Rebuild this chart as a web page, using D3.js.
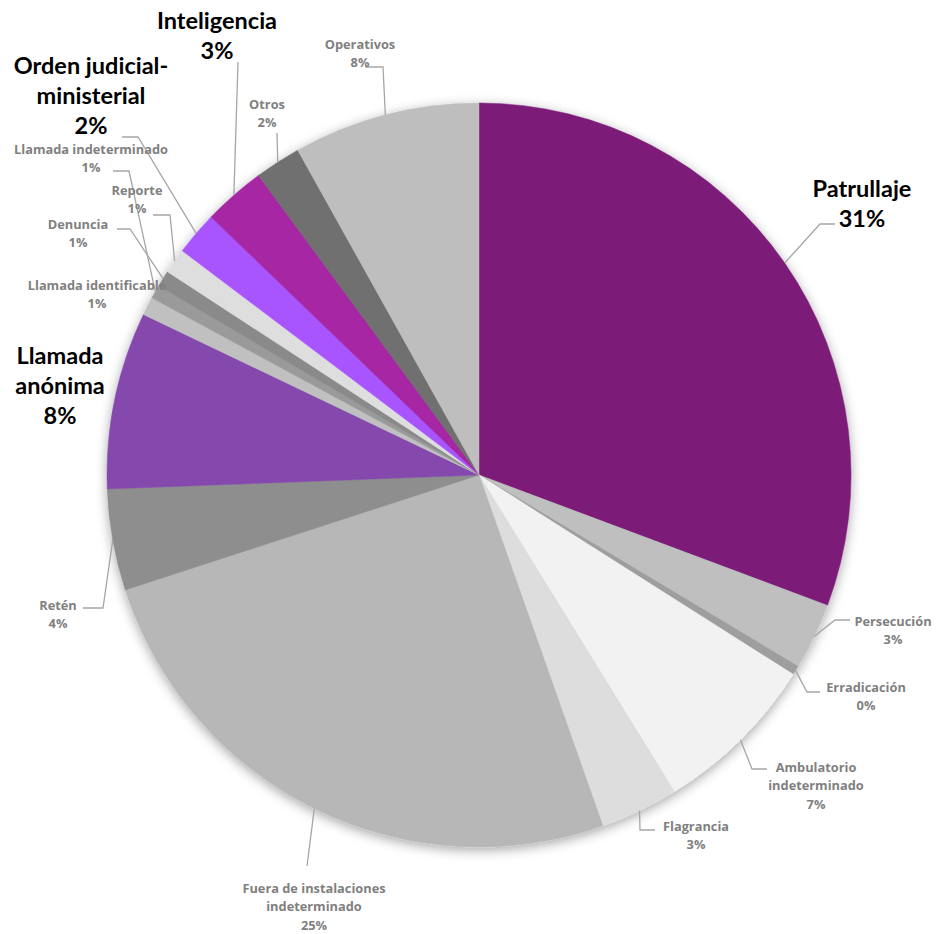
<!DOCTYPE html>
<html>
<head>
<meta charset="utf-8">
<script src="https://cdn.jsdelivr.net/npm/d3@7"></script>
<style>
  html, body { margin: 0; padding: 0; background: #fff; }
  svg { display: block; }
  .lbl { font-weight: 700; text-anchor: middle; }
  .small { font-family: "Open Sans", Lato, sans-serif; font-size: 12.8px; fill: #808080; }
  .big { font-family: Lato, "Open Sans", sans-serif; font-size: 23.5px; fill: #000; }
  .leader { fill: none; stroke: #a6a6a6; stroke-width: 1.3; }
</style>
</head>
<body>
<svg id="chart" width="938" height="934"></svg>
<script>
// --- data (percent of total) ---
const categories = [
  "Patrullaje", "Persecución", "Erradicación", "Ambulatorio\nindeterminado", "Flagrancia",
  "Fuera de instalaciones\nindeterminado", "Retén", "Llamada\nanónima", "Llamada identificable",
  "Llamada indeterminado", "Denuncia", "Reporte", "Orden judicial-\nministerial",
  "Inteligencia", "Otros", "Operativos"
];
const values = [30.7, 2.9, 0.4, 7.2, 3.4, 25.4, 4.4, 7.7, 0.8, 0.6, 0.7, 1.1, 1.9, 2.7, 2.0, 8.1];
const highlighted = ["Patrullaje", "Llamada\nanónima", "Orden judicial-\nministerial", "Inteligencia"];

// --- styles ---
const colors = [
  "#7b1a78", "#bfbfbf", "#9e9e9e", "#f2f2f2", "#dddddd",
  "#b7b7b7", "#8e8e8e", "#8549ae", "#c0c0c0",
  "#9a9a9a", "#8a8a8a", "#dedede", "#a855ff",
  "#a626a4", "#6f6f6f", "#bebebe"
];

// label layout: first line centre, line start and elbow of the leader (null = no leader)
const labelLayout = [
  { x: 862, y: 189, s: [835, 224], e: [820, 224] },
  { x: 893, y: 621, s: [850, 620], e: [835, 620] },
  { x: 866, y: 687, s: [820, 692], e: [807, 692] },
  { x: 816, y: 767, s: [767, 769], e: [752, 769] },
  { x: 696, y: 826, s: [655, 830], e: [640, 830] },
  { x: 314, y: 888, s: [307, 866], e: [307, 866] },
  { x: 58,  y: 605, s: [83, 608],  e: [103, 608] },
  { x: 60,  y: 356, s: null },
  { x: 97,  y: 285, s: null },
  { x: 91,  y: 149, s: [113, 171], e: [129, 171] },
  { x: 78,  y: 224, s: [117, 229], e: [130, 229] },
  { x: 137, y: 190, s: [153, 215], e: [170, 215] },
  { x: 91,  y: 66,  s: [122, 137], e: [138, 137] },
  { x: 217, y: 21,  s: [238, 62],  e: [238, 62] },
  { x: 267, y: 104, s: [277, 133], e: [277, 133] },
  { x: 360, y: 44,  s: [365, 67],  e: [383, 67] }
];

const cx = 479, cy = 475, radius = 372;
const svg = d3.select("#chart");

const defs = svg.append("defs");
const f = defs.append("filter").attr("id", "shadow")
  .attr("x", "-10%").attr("y", "-10%").attr("width", "120%").attr("height", "120%");
f.append("feDropShadow").attr("dx", 0).attr("dy", 3).attr("stdDeviation", 6)
  .attr("flood-color", "#000").attr("flood-opacity", 0.35);

const total = d3.sum(values);
const pie = d3.pie().sort(null).value(d => d)(values);
const arc = d3.arc().innerRadius(0).outerRadius(radius);
const edge = d3.arc().innerRadius(radius).outerRadius(radius);

const g = svg.append("g").attr("transform", `translate(${cx},${cy})`);
g.append("g").attr("filter", "url(#shadow)")
  .selectAll("path")
  .data(pie)
  .enter().append("path")
  .attr("d", arc)
  .attr("fill", (d, i) => colors[i])
  .attr("stroke", (d, i) => colors[i])
  .attr("stroke-width", 0.5);

// leader lines
pie.forEach((d, i) => {
  const L = labelLayout[i];
  if (!L.s) return;
  const [px, py] = edge.centroid(d);
  svg.append("polyline")
    .attr("class", "leader")
    .attr("points", [L.s, L.e, [cx + px, cy + py]].map(p => p.join(",")).join(" "));
});

// labels
pie.forEach((d, i) => {
  const L = labelLayout[i];
  const big = highlighted.includes(categories[i]);
  const lines = categories[i].split("\n").concat([Math.round(values[i] / total * 100) + "%"]);
  const lh = big ? 30 : 18.5;
  const fs = big ? 23.5 : 12.8;
  const t = svg.append("text").attr("class", "lbl " + (big ? "big" : "small"));
  lines.forEach((s, k) => {
    t.append("tspan").attr("x", L.x).attr("y", L.y + k * lh + fs * 0.36).text(s);
  });
});
</script>
</body>
</html>
